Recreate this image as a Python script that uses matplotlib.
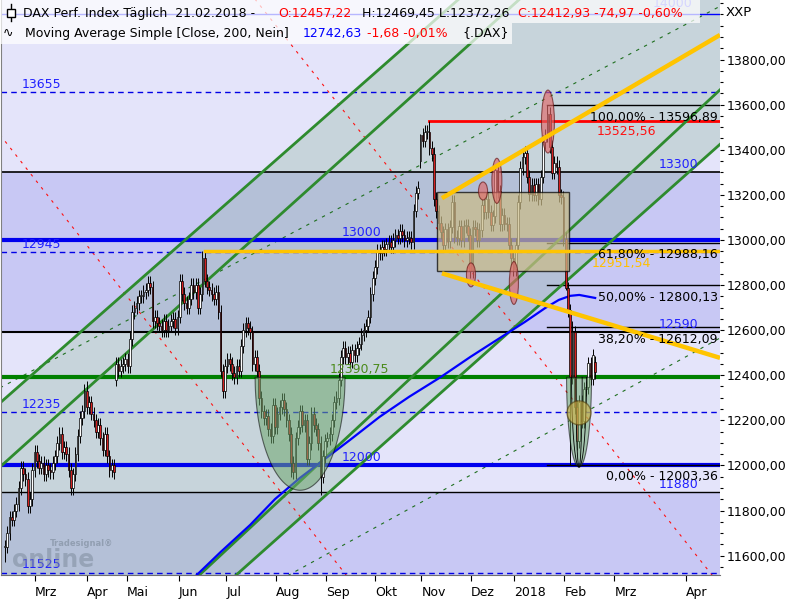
import numpy as np
import matplotlib
matplotlib.use("Agg")
import matplotlib.pyplot as plt
from matplotlib.patches import Rectangle, Ellipse, Polygon
from matplotlib.ticker import FuncFormatter, MultipleLocator, FixedLocator
from matplotlib.lines import Line2D

# ---------------- data ----------------
closes = [
    11640, 11700, 11770, 11760, 11800, 11830, 11900, 11990, 11960, 11940,
    11820, 11850, 11980, 12060, 12020, 11990, 12010, 11960, 12000, 11980,
    11970, 12010, 12040, 12100, 12140, 12060, 12080, 12050, 11980, 11900,
    11960, 12050, 12130, 12210, 12240, 12330, 12260, 12280, 12230, 12200,
    12150, 12180, 12120, 12070, 12140, 12040, 11980, 12000, 11970, 12450,
    12420, 12440, 12450, 12470, 12440, 12560, 12680, 12700, 12720, 12750,
    12750, 12770, 12780, 12810, 12790, 12640, 12660, 12630, 12620, 12600,
    12640, 12600, 12620, 12640, 12650, 12610, 12660, 12820, 12760, 12720,
    12700, 12740, 12800, 12770, 12800, 12700, 12760, 12920, 12820, 12790,
    12780, 12760, 12740, 12770, 12680, 12420, 12330, 12440, 12470, 12450,
    12410, 12390, 12440, 12420, 12530, 12600, 12630, 12610, 12590, 12450,
    12480, 12420, 12300, 12240, 12210, 12220, 12160, 12130, 12270, 12170,
    12230, 12260, 12290, 12250, 12200, 12140, 12010, 11970, 12120, 12170,
    12240, 12180, 12200, 12030, 12100, 12230, 12180, 12160, 12100, 11950,
    12040, 12110, 12120, 12140, 12200, 12280, 12300, 12380, 12480, 12520,
    12480, 12500, 12460, 12510, 12490, 12520, 12540, 12580, 12600, 12620,
    12660, 12760, 12830, 12880, 12950, 12940, 12970, 12960, 12980, 12990,
    12970, 13000, 13020, 13010, 13040, 13020, 13000, 13010, 13010, 12990,
    13130, 13210, 13230, 13466, 13440, 13479, 13479, 13407, 13382, 13182,
    13127, 13074, 13033, 12977, 13047, 12994, 13059, 13168, 13015, 13008,
    13060, 13000, 13060, 13061, 13024, 12861, 13058, 13048, 12998, 13045,
    13153, 13123, 13183, 13125, 13068, 13104, 13312, 13215, 13069, 13110,
    13072, 13070, 12979, 12918, 12871, 12978, 13167, 13320, 13367, 13385,
    13281, 13202, 13245, 13201, 13246, 13183, 13281, 13434, 13463, 13560,
    13414, 13298, 13340, 13324, 13197, 13189, 13003, 12785, 12687, 12392,
    12590, 12260, 12107, 12282, 12197, 12339, 12346, 12452, 12385, 12488, 12413,
]
open_overrides = {49: 12380, 183: 13350, 260: 12457.22}
high_overrides = {36: 12375, 88: 12951.54, 183: 13470, 187: 13525.56, 216: 13330,
                  239: 13596.89, 250: 12640}
low_overrides = {0: 11570, 10: 11790, 96: 12300, 126: 11950, 139: 11868,
                 247: 12780, 249: 12003.36, 252: 12070}
WICK = 30

month_ticks = [13.1, 36.0, 53.6, 76.6, 97.5, 119.3, 141.3, 163.2, 183.4, 205.2,
               224.4, 246.4, 268.5, 300.0]
month_labels = ["Mrz", "Apr", "Mai", "Jun", "Jul", "Aug", "Sep", "Okt", "Nov",
                "Dez", "2018", "Feb", "Mrz", "Apr"]
price_ticks = [11600, 11800, 12000, 12200, 12400, 12600, 12800, 13000, 13200, 13400,
               13600, 13800]

ma_idx = [82, 95, 108, 119, 130, 141, 152, 165, 178, 192, 205, 218, 229, 238, 244, 249, 253, 260]
ma_val = [11490, 11616, 11736, 11851, 11945, 12029, 12113, 12215, 12304, 12392,
          12481, 12565, 12636, 12698, 12734, 12752, 12756, 12742.63]

levels = [14000, 13655, 13300, 13000, 12945, 12590, 12390.75, 12235, 12000, 11880, 11525]
level_labels = ["14000", "13655", "13300", "13000", "12945", "12590", "12390,75",
                "12235", "12000", "11880", "11525"]

fib_levels = [13596.89, 12988.16, 12800.13, 12612.09, 12003.36]
fib_pcts = ["100,00%", "61,80%", "50,00%", "38,20%", "0,00%"]
fib_start = 239

red_level = 13525.56
red_start = 187
yellow_level = 12951.54
yellow_start = 88

# drawing-tool anchor points (index, price)
green_A = [(-2.2, 12277), (204.8, 14111)]
green_B = [(-2.2, 11993), (235.7, 14149)]
green_C = [(83.3, 11492), (315.9, 13674)]
green_D = [(99.4, 11492), (315.9, 13432)]
green_dash1 = [(-2.2, 12344), (315.9, 14041)]
green_dash2 = [(121.1, 11492), (315.9, 12570)]
red_dash1 = [(-2.2, 13466), (152.0, 11492)]
red_dash2 = [(108.7, 14086), (313.2, 11492)]
yellow_up = [(192.5, 13185), (315.0, 13909)]
yellow_dn = [(192.5, 12852), (315.0, 12477)]
box = (190.3, 12862, 248.5, 13213)
red_ellipses = [(239.2, 13525, 5.7, 279), (210.6, 13217, 4.0, 80), (216.7, 13262, 4.4, 200),
                (205.3, 12845, 4.0, 106), (224.2, 12809, 4.0, 190)]
bowls = [(130.0, 12390.75, 19.8, 501), (252.9, 12390.75, 5.5, 398)]
yellow_circle = (252.9, 12233, 10.6, 106)

XMIN, XMAX = -1.76, 315.0
YMIN, YMAX = 11514, 14064

# ---------------- figure ----------------
plt.rcParams['font.family'] = ['DejaVu Sans']
fig = plt.figure(figsize=(8, 6), dpi=100)
ax = fig.add_axes([1 / 800, 25 / 600, 719 / 800, 575 / 600])
ax.set_xlim(XMIN, XMAX)
ax.set_ylim(YMIN, YMAX)

LIGHT, DARK = '#e4e4fa', '#c8c8f4'
ax.axhspan(13300, YMAX, color=LIGHT, zorder=0, lw=0)
ax.axhspan(12590, 13300, color=DARK, zorder=0, lw=0)
ax.axhspan(11880, 12590, color=LIGHT, zorder=0, lw=0)
ax.axhspan(YMIN, 11880, color=DARK, zorder=0, lw=0)


def line_fn(pts, x):
    (x0, y0), (x1, y1) = pts
    return y0 + (y1 - y0) * (x - x0) / (x1 - x0)


xs = np.linspace(XMIN, XMAX, 400)
ax.fill_between(xs, line_fn(green_D, xs), line_fn(green_A, xs), color='#87af96',
                alpha=0.3, lw=0, zorder=0.5)

# thin dashed lines
for pts in (green_dash1, green_dash2):
    ax.plot([p[0] for p in pts], [p[1] for p in pts], color='#1f6f1f', lw=0.8,
            dashes=(3, 5), zorder=1)
for pts in (red_dash1, red_dash2):
    ax.plot([p[0] for p in pts], [p[1] for p in pts], color='#ff1010', lw=0.8,
            dashes=(2.5, 5), zorder=1)

# horizontal levels
lvl_color = ['#0000ff', '#0000e6', '#000000', '#0000ee', '#0000e6', '#000000', '#008000',
             '#0000e6', '#0000ee', '#000000', '#0000e6']
lvl_lw = [1, 1, 1.2, 3, 1, 1.5, 3, 1, 3, 1, 1]
lvl_ls = ['-', '--', '-', '-', '--', '-', '-', '--', '-', '-', '--']
lab_x = [303.0, 7.5, 305.3, 148.5, 7.5, 305.3, 143.2, 7.5, 148.5, 305.3, 7.5]
lab_ha = ['right', 'left', 'right', 'left', 'left', 'right', 'left', 'left', 'left', 'right', 'left']
lab_dy = [5, 3, 3, 3, 3, 3, 3, 3, 3, 3, 3]
lab_col = ['#2020ff'] * 11
lab_col[0] = '#6a6aff'
lab_col[6] = '#4a8a1a'
for i, lv in enumerate(levels):
    kw = dict(color=lvl_color[i], lw=lvl_lw[i], zorder=2)
    if lvl_ls[i] == '--':
        kw['dashes'] = (4, 3)
    ax.axhline(lv, **kw)
    ax.annotate(level_labels[i], xy=(lab_x[i], lv), xytext=(0, lab_dy[i]),
                textcoords='offset points', ha=lab_ha[i], va='baseline', color=lab_col[i],
                fontsize=9, zorder=7, annotation_clip=False, clip_on=True)

# fib lines
for lv, pct in zip(fib_levels, fib_pcts):
    ax.plot([fib_start, XMAX], [lv, lv], color='black', lw=1, zorder=2)
    ax.annotate(f"{pct} - {lv:.2f}".replace('.', ','), xy=(314.1, lv), xytext=(0, -4),
                textcoords='offset points', ha='right', va='top', fontsize=9,
                color='black', zorder=7)

# red and yellow horizontal
ax.plot([red_start, XMAX], [red_level, red_level], color='#ff0000', lw=2, zorder=2.2)
ax.annotate(f"{red_level:.2f}".replace('.', ','), xy=(260.8, red_level), xytext=(0, -2.5),
            textcoords='offset points', ha='left', va='top', fontsize=9, color='#ff1010', zorder=7)

# green channel lines
for pts in (green_A, green_B, green_C, green_D):
    ax.plot([p[0] for p in pts], [p[1] for p in pts], color='#2e8b2e', lw=2, zorder=2.5)

# moving average
ax.plot(ma_idx, ma_val, color='#0000ff', lw=1.6, zorder=3)

# candles
n = len(closes)
idx = np.arange(n)
opens = [closes[0]] + closes[:-1]
for k, v in open_overrides.items():
    opens[k] = v
highs = [max(o, c) + WICK for o, c in zip(opens, closes)]
lows = [min(o, c) - WICK for o, c in zip(opens, closes)]
for k, v in high_overrides.items():
    highs[k] = v
for k, v in low_overrides.items():
    lows[k] = v
ax.vlines(idx, lows, highs, color='black', lw=0.7, zorder=4)
bottoms = [min(o, c) for o, c in zip(opens, closes)]
heights = [max(abs(c - o), 4) for o, c in zip(opens, closes)]
cols = ['white' if c >= o else '#d42020' for o, c in zip(opens, closes)]
ax.bar(idx, heights, bottom=bottoms, width=0.75, color=cols, edgecolor='black',
       lw=0.5, zorder=4.1)

# shapes
bx0, by0, bx1, by1 = box
ax.add_patch(Rectangle((bx0, by0), bx1 - bx0, by1 - by0, facecolor='#cabb88', alpha=0.72,
                       edgecolor='black', lw=1, zorder=5))
for cx, cy, w, h in red_ellipses:
    ax.add_patch(Ellipse((cx, cy), w, h, facecolor='#e06868', alpha=0.65,
                         edgecolor='#601010', lw=0.8, zorder=5.2))
theta = np.linspace(np.pi, 2 * np.pi, 80)
for cx, cy, a, b in bowls:
    pts = np.column_stack([cx + a * np.cos(theta), cy + b * np.sin(theta)])
    ax.add_patch(Polygon(pts, closed=True, facecolor='#6fa86f', alpha=0.55,
                         edgecolor='black', lw=0.8, zorder=5))
cx, cy, a, b = bowls[1]
for frac in (0.6, 0.25):
    ax.plot(cx + a * frac * np.cos(theta), cy + b * np.sin(theta), color='black',
            lw=0.6, zorder=5.1)
ycx, ycy, yw, yh = yellow_circle
ax.add_patch(Ellipse((ycx, ycy), yw, yh, facecolor='#d0b040', alpha=0.6,
                     edgecolor='#504010', lw=1, zorder=5.3))

# yellow lines
ax.plot([yellow_start, XMAX], [yellow_level, yellow_level], color='#ffc400', lw=2.5, zorder=6)
for pts in (yellow_up, yellow_dn):
    ax.plot([p[0] for p in pts], [p[1] for p in pts], color='#ffc400', lw=3.2,
            solid_capstyle='butt', zorder=6)
ax.annotate(f"{yellow_level:.2f}".replace('.', ','), xy=(258.6, yellow_level), xytext=(0, -4.5),
            textcoords='offset points', ha='left', va='top', fontsize=9, color='#ffc000', zorder=6.9)

# ---------------- axes styling ----------------
ax.yaxis.tick_right()
ax.yaxis.set_major_locator(FixedLocator(price_ticks))
ax.yaxis.set_minor_locator(MultipleLocator(50))
ax.yaxis.set_major_formatter(FuncFormatter(lambda v, p: f"{v:.2f}".replace('.', ',')))
ax.tick_params(axis='y', which='major', direction='out', length=3, width=0.8, pad=2,
               labelsize=9, colors='black')
ax.tick_params(axis='y', which='minor', direction='out', length=2, width=0.8)
ax.set_xticks(month_ticks)
ax.set_xticklabels(month_labels)
for t in ax.get_xticklabels():
    t.set_horizontalalignment('left')
ax.tick_params(axis='x', direction='out', length=4, width=0.8, pad=4, labelsize=9)
for s in ('top', 'right'):
    ax.spines[s].set_visible(False)
ax.spines['left'].set_color('#808080')
ax.spines['bottom'].set_color('#707070')

# watermark
fig.text(12 / 800, 1 - 560 / 600, "online", fontsize=17, fontweight='bold',
         color='#7a8898', alpha=0.5, va='center', ha='left', zorder=8)
fig.text(50 / 800, 1 - 544 / 600, "Tradesignal®", fontsize=6, fontweight='bold',
         color='#7a8898', alpha=0.6, va='center', ha='left', zorder=8)

# ---------------- header ----------------
fig.patches.append(Rectangle((0, 1 - 23 / 600), 700 / 800, 23 / 600, transform=fig.transFigure,
                             facecolor='white', alpha=0.72, lw=0, zorder=10))
fig.patches.append(Rectangle((0, 1 - 44 / 600), 512 / 800, 21 / 600, transform=fig.transFigure,
                             facecolor='white', alpha=0.72, lw=0, zorder=10))
# candle icon
fig.add_artist(Line2D([11 / 800, 11 / 800], [1 - 4 / 600, 1 - 21 / 600], color='black', lw=1,
                      transform=fig.transFigure, zorder=11))
fig.patches.append(Rectangle((7 / 800, 1 - 17 / 600), 8 / 800, 8 / 600, transform=fig.transFigure,
                             facecolor='white', edgecolor='black', lw=1, zorder=11))

hdr1 = [("DAX Perf. Index Täglich  21.02.2018 -", 'black', 23),
        ("O:12457,22", '#ff0000', 278),
        ("H:12469,45 L:12372,26", 'black', 362),
        ("C:12412,93 -74,97 -0,60%", '#ff0000', 518)]
hdr2 = [("∿", 'black', 3),
        ("Moving Average Simple [Close, 200, Nein]", 'black', 25),
        ("12742,63", '#0000ff', 303),
        ("-1,68 -0,01%", '#ff0000', 367),
        ("{.DAX}", 'black', 462)]
for txt, col, xp in hdr1:
    fig.text(xp / 800, 1 - 13 / 600, txt, color=col, fontsize=9, va='center', ha='left', zorder=12)
for txt, col, xp in hdr2:
    fig.text(xp / 800, 1 - 33 / 600, txt, color=col, fontsize=9, va='center', ha='left', zorder=12)
fig.text(726 / 800, 1 - 13 / 600, "XXP", color='black', fontsize=9.5, va='center', ha='left')

fig.savefig("out.png", dpi=100)
